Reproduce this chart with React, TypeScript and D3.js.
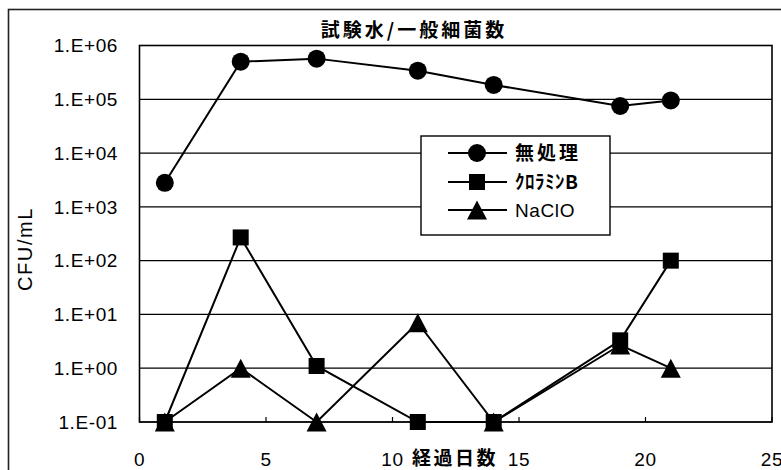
import React from "react";
import * as d3 from "d3";

// Bacterial counts (CFU/mL) by elapsed day
const days = [1, 4, 7, 11, 14, 19, 21];
const untreated = [2.8e3, 5.0e5, 5.7e5, 3.4e5, 1.85e5, 7.5e4, 9.5e4];
const chloramineB = [0.1, 270, 1.1, 0.1, 0.1, 3.3, 100];
const naclo = [0.1, 1.0, 0.1, 7.0, 0.1, 2.7, 1.0];

const seriesNames = ["無処理", "ｸﾛﾗﾐﾝB", "NaClO"];
const yTickValues = [1e-1, 1, 1e1, 1e2, 1e3, 1e4, 1e5, 1e6];
const yTickLabels = ["1.E-01", "1.E+00", "1.E+01", "1.E+02", "1.E+03", "1.E+04", "1.E+05", "1.E+06"];
const xTickValues = [0, 5, 10, 15, 20, 25];

const W = 781;
const H = 470;
const plot = { left: 139.5, right: 772, top: 45.5, bottom: 422 };

const latin = "'Liberation Sans', Arial, sans-serif";
const cjk = "'Noto Sans CJK JP', 'Noto Sans', sans-serif";

type Shape = "circle" | "square" | "triangle";

function Marker({ x, y, shape }: { x: number; y: number; shape: Shape }) {
  if (shape === "circle") return <circle cx={x} cy={y} r={9} fill="#000" />;
  if (shape === "square") return <rect x={x - 8} y={y - 8} width={16} height={16} fill="#000" />;
  const h = 19;
  return (
    <path
      d={`M${x},${y - h / 2} L${x + 10},${y + h / 2} L${x - 10},${y + h / 2} Z`}
      fill="#000"
    />
  );
}

export default function App() {
  const x = d3.scaleLinear().domain([0, 25]).range([plot.left, plot.right]);
  const y = d3.scaleLog().domain([1e-1, 1e6]).range([plot.bottom, plot.top]);

  const series: { name: string; values: number[]; shape: Shape }[] = [
    { name: seriesNames[0], values: untreated, shape: "circle" },
    { name: seriesNames[1], values: chloramineB, shape: "square" },
    { name: seriesNames[2], values: naclo, shape: "triangle" },
  ];

  const line = d3
    .line<[number, number]>()
    .x((d) => x(d[0]))
    .y((d) => y(d[1]));

  const legend = { x: 421, y: 136, w: 189, h: 99 };
  const legendRows = [153, 182, 210];

  return (
    <div style={{ position: "fixed", left: 0, top: 0 }}>
      <svg width={W} height={H} style={{ display: "block", background: "#fff" }}>
        {/* outer frame */}
        <rect x={8.5} y={9.5} width={900} height={600} fill="none" stroke="#222" strokeWidth={1.6} />

        {/* title */}
        <text
          x={414}
          y={37}
          textAnchor="middle"
          fontFamily={cjk}
          fontSize={19}
          fontWeight={700}
          letterSpacing={3}
        >
          試験水/一般細菌数
        </text>

        {/* gridlines */}
        {yTickValues.map((v) => (
          <line
            key={"g" + v}
            x1={plot.left}
            x2={plot.right}
            y1={y(v)}
            y2={y(v)}
            stroke="#000"
            strokeWidth={1.2}
          />
        ))}

        {/* plot frame */}
        <rect
          x={plot.left}
          y={plot.top}
          width={plot.right - plot.left}
          height={plot.bottom - plot.top}
          fill="none"
          stroke="#000"
          strokeWidth={1.6}
        />

        {/* x ticks */}
        {xTickValues.map((v) => (
          <line key={"xt" + v} x1={x(v)} x2={x(v)} y1={plot.bottom} y2={plot.bottom - 5} stroke="#000" strokeWidth={1.2} />
        ))}

        {/* y tick labels */}
        {yTickValues.map((v, i) => (
          <text
            key={"yl" + v}
            x={118}
            y={y(v)}
            dy="0.36em"
            textAnchor="end"
            fontFamily={latin}
            fontSize={19}
            letterSpacing={0.6}
          >
            {yTickLabels[i]}
          </text>
        ))}

        {/* x tick labels */}
        {xTickValues.map((v) => (
          <text
            key={"xl" + v}
            x={x(v)}
            y={466}
            textAnchor="middle"
            fontFamily={latin}
            fontSize={19}
            letterSpacing={0.6}
          >
            {v}
          </text>
        ))}

        {/* axis titles */}
        <text
          x={455}
          y={465}
          textAnchor="middle"
          fontFamily={cjk}
          fontSize={19}
          fontWeight={700}
          letterSpacing={2.5}
        >
          経過日数
        </text>
        <text
          transform="translate(32,249) rotate(-90)"
          textAnchor="middle"
          fontFamily={latin}
          fontSize={20}
          letterSpacing={1.6}
        >
          CFU/mL
        </text>

        {/* series */}
        {series.map((s) => {
          const pts = days.map((d, i) => [d, s.values[i]] as [number, number]);
          return (
            <g key={s.name}>
              <path d={line(pts) ?? ""} fill="none" stroke="#000" strokeWidth={2} />
              {pts.map((p, i) => (
                <Marker key={i} x={x(p[0])} y={y(p[1])} shape={s.shape} />
              ))}
            </g>
          );
        })}

        {/* legend */}
        <rect x={legend.x} y={legend.y} width={legend.w} height={legend.h} fill="#fff" stroke="#000" strokeWidth={1.4} />
        {series.map((s, i) => (
          <g key={"lg" + s.name}>
            <line x1={448} x2={507} y1={legendRows[i]} y2={legendRows[i]} stroke="#000" strokeWidth={2} />
            <Marker x={477} y={legendRows[i]} shape={s.shape} />
            <text
              x={515}
              y={legendRows[i]}
              dy="0.36em"
              fontFamily={i === 2 ? latin : cjk}
              fontSize={19}
              fontWeight={i === 2 ? 400 : 700}
              letterSpacing={i === 0 ? 3 : i === 1 ? 0.5 : 0.6}
            >
              {s.name}
            </text>
          </g>
        ))}
      </svg>
    </div>
  );
}
